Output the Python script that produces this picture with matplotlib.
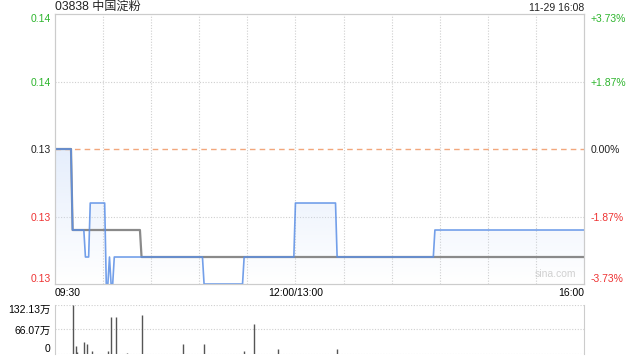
import numpy as np
import matplotlib
matplotlib.use('Agg')
import matplotlib.pyplot as plt
from matplotlib.patches import Polygon

plt.rcParams['font.family'] = ['Liberation Sans', 'Noto Sans CJK SC']

title = '03838 中国淀粉'
stamp = '11-29 16:08'
prev_close = 0.134

# minutes since 09:30 (trading minutes, lunch removed), price
price_t = [0, 10, 11, 18, 19, 21, 22, 31, 32, 33, 34, 35, 36, 37, 92, 93,
           117, 118, 149, 150, 175, 176, 236, 237, 330]
price_v = [0.134, 0.134, 0.131, 0.131, 0.130, 0.130, 0.132, 0.132, 0.129,
           0.129, 0.130, 0.129, 0.129, 0.130, 0.130, 0.129, 0.129, 0.130,
           0.130, 0.132, 0.132, 0.130, 0.130, 0.131, 0.131]
avg_t = [0, 10, 11, 53, 54, 330]
avg_v = [0.134, 0.134, 0.131, 0.131, 0.130, 0.130]

# volume in 万
vol_t = [11, 13, 14, 18, 20, 23, 33, 35, 38, 45, 54, 80, 93, 118, 124, 139, 176]
vol_v = [132.13, 21.6, 6, 32, 27, 8, 8, 100, 100, 2, 105, 27, 27, 8, 81, 13, 13]

price_ticks = [0.139, 0.1365, 0.134, 0.1315, 0.129]
price_labels = ['0.14', '0.14', '0.13', '0.13', '0.13']
pct_labels = ['+3.73%', '+1.87%', '0.00%', '-1.87%', '-3.73%']
vol_ticks = [132.13, 66.07, 0]
vol_labels = ['132.13万', '66.07万', '0']
x_ticks = [0, 150, 330]
x_labels = ['09:30', '12:00/13:00', '16:00']

green = '#2db52d'
red = '#ee3333'
label_colors = [green, green, '#222222', red, red]
grid_kw = dict(color='#cfcfcf', linestyle=(0, (1, 1.5)), linewidth=0.8)

fig = plt.figure(figsize=(6.4, 3.6), dpi=100)
ax = fig.add_axes([0.0859, 0.2111, 0.8266, 0.75])
axv = fig.add_axes([0.0859, 0.0167, 0.8266, 0.1361])

ax.set_xlim(0, 330)
ax.set_ylim(0.129, 0.139)

# gradient fill under the price line
poly = Polygon(list(zip(price_t, price_v)) + [(330, 0.129), (0, 0.129)],
               closed=True, facecolor='none', edgecolor='none')
ax.add_patch(poly)
grad = np.linspace(1, 0, 256).reshape(-1, 1)
cols = np.zeros((256, 1, 4))
cols[..., 0] = 0.80
cols[..., 1] = 0.87
cols[..., 2] = 0.98
cols[..., 3] = 0.55 * grad
img = ax.imshow(cols, extent=[0, 330, 0.129, 0.1345], aspect='auto',
                origin='upper', zorder=1)
img.set_clip_path(poly)

for t in range(30, 330, 30):
    ax.axvline(t, **grid_kw, zorder=0)
for y in [0.1365, 0.1315]:
    ax.axhline(y, **grid_kw, zorder=0)
ax.axhline(prev_close, color='#f2a77c', linestyle=(0, (4, 3)), linewidth=1, zorder=2)

ax.plot(avg_t, avg_v, color='#8a8a8a', linewidth=1.6, zorder=3)
ax.plot(price_t, price_v, color='#5b8fe6', linewidth=1.2, alpha=0.85, zorder=4)

ax.set_yticks(price_ticks)
ax.set_yticklabels(price_labels)
ax.set_xticks(x_ticks)
ax.set_xticklabels(x_labels)
ax.tick_params(length=0, labelsize=7.5, pad=3)
xl = ax.get_xticklabels()
xl[0].set_ha('left')
xl[2].set_ha('right')
for lab, c in zip(ax.get_yticklabels(), label_colors):
    lab.set_color(c)
yl = ax.get_yticklabels()
yl[0].set_va('top')
yl[-1].set_va('bottom')

axr = ax.twinx()
axr.set_ylim(ax.get_ylim())
axr.set_yticks(price_ticks)
axr.set_yticklabels(pct_labels)
axr.tick_params(length=0, labelsize=7.5, pad=5)
for lab, c in zip(axr.get_yticklabels(), label_colors):
    lab.set_color(c)
rl = axr.get_yticklabels()
rl[0].set_va('top')
rl[-1].set_va('bottom')

for a in (ax, axr):
    for s in a.spines.values():
        s.set_color('#cccccc')

ax.text(0, 1.005, title, transform=ax.transAxes, fontsize=8.7, ha='left', va='bottom', color='#222222')
ax.text(1, 1.005, stamp, transform=ax.transAxes, fontsize=7.5, ha='right', va='bottom', color='#222222')
ax.text(0.985, 0.02, 'sina.com', transform=ax.transAxes, fontsize=7.5, ha='right', va='bottom', color='#d0d0d0')

# volume
axv.set_xlim(0, 330)
axv.set_ylim(0, 132.13)
axv.vlines(vol_t, 0, vol_v, color='#555555', linewidth=1)
for y in vol_ticks:
    axv.axhline(y, **grid_kw, zorder=0)
axv.set_xticks([])
axv.set_yticks(vol_ticks)
axv.set_yticklabels(vol_labels)
axv.tick_params(length=0, labelsize=7.5, pad=3)
vl = axv.get_yticklabels()
vl[0].set_va('top')
vl[-1].set_va('bottom')
for k in ('top', 'bottom'):
    axv.spines[k].set_visible(False)
for k in ('left', 'right'):
    axv.spines[k].set_color('#cccccc')

fig.savefig('out.png', dpi=100)
